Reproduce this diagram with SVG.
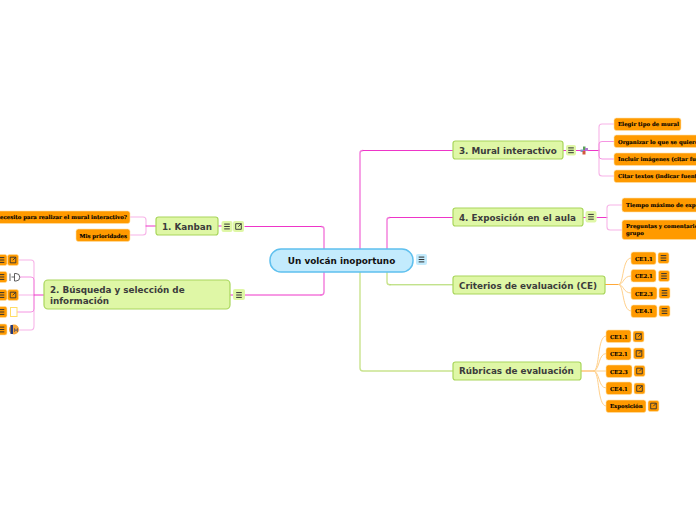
<svg xmlns="http://www.w3.org/2000/svg" xmlns:xlink="http://www.w3.org/1999/xlink" width="696" height="520" viewBox="0 0 696 520">
<style>
text{font-family:"DejaVu Sans",sans-serif;font-weight:bold}
.b{fill:#dff7a6;stroke:#a9d65c;stroke-width:1.2}
.bt{font-size:8.8px;fill:#3c3c3c}
.r{fill:#c3ebfd;stroke:#5fc0ee;stroke-width:1.5}
.l{fill:#ff9a00;stroke:#ffe0a8;stroke-width:.6}
.lt{font-family:"DejaVu Serif",serif;font-size:5.4px;fill:#000;stroke:#000;stroke-width:.12}
.c{fill:none;stroke-linecap:round}
.p1{stroke:#f27adb;stroke-width:1.4}
.p2{stroke:#ee35c8;stroke-width:1}
.g1{stroke:#c9e38e;stroke-width:1.4}
.g2{stroke:#a9d65c;stroke-width:1}
.q{stroke:#f7b4e8;stroke-width:1.1}
.q2{stroke:#f27adb;stroke-width:.8}
.o1{stroke:#ffa838;stroke-width:1.2}
.o2{stroke:#ffd08a;stroke-width:1}
</style>
<defs>
<g id="nb"><path d="M-2.8 -2.4H2.8M-2.8 0H2.8M-2.8 2.4H2.8" stroke="#333" stroke-width="1" fill="none"/></g>
<g id="lk"><path d="M1 -2.8H-2.8V2.8H2.8V-.8M-.3 .3L2.8 -2.8M.8 -2.8H2.8V-.8" stroke="#333" stroke-width=".9" fill="none"/></g>
</defs>
<g id="connectors">
<path class="c p1" d="M360 249V153Q360 150.500 363 150.500"/><path class="c p2" d="M363 150.500H453"/>
<path class="c p1" d="M387 249V220Q387 217.500 390 217.500"/><path class="c p2" d="M390 217.500H453"/>
<path class="c g1" d="M387 272V282Q387 284.800 390 284.800"/><path class="c g2" d="M390 284.800H453"/>
<path class="c g1" d="M360 272V368Q360 371 363 371H453"/>
<path class="c p1" d="M324 249V229Q324 226.500 321 226.500"/><path class="c p2" d="M321 226.500H245"/>
<path class="c p1" d="M324 272V292Q324 295 321 295"/><path class="c p2" d="M321 295H245"/>
<path class="c p2" d="M563 150.500H566M576 150.500H599"/>
<path class="c q" d="M614 124H602Q599 124 599 127V173Q599 176 602 176H614"/>
<path class="c q2" d="M614 141.500H602Q599 141.500 599 144V150M614 159H602Q599 159 599 156V150"/>
<path class="c p2" d="M583 217.500H586M597 217.500H607"/>
<path class="c q" d="M622 205H610Q607 205 607 208V227Q607 230 610 230H622"/>
<path class="c o1" d="M605 284.500H619"/>
<path class="c o2" d="M619 284.500C624 284 622 258 631 258M619 284.500C624 284 623 276 631 276M619 284.500C624 285 623 293 631 293M619 284.500C624 285 622 311 631 311"/>
<path class="c o1" d="M581 371H594"/>
<path class="c o2" d="M594 371C600 370 597 336 606 336M594 371C600 370 598 353.500 606 353.500M594 371H606M594 371C600 372 598 388 606 388M594 371C600 372 597 406 606 406"/>
<path class="c p2" d="M218 226H222"/>
<path class="c q" d="M130 217H143Q146 217 146 220V232Q146 235 143 235H130"/><path class="c p2" d="M146 226H156"/>
<path class="c p2" d="M230 295H233"/>
<path class="c q" d="M18 260H31Q34 260 34 263V326Q34 330 31 330H18"/>
<path class="c q2" d="M20 277H31Q34 277 34 280V309Q34 312 31 312H16"/>
<path class="c q" d="M18 295H34"/><path class="c p2" d="M34 295H44"/>
</g>
<g id="root"><rect class="r" x="270" y="249" width="143" height="23" rx="11"/><text x="341.500" y="264" text-anchor="middle" font-size="8.900" fill="#111">Un volcán inoportuno</text>
<rect x="416" y="254" width="11" height="11" rx="2" fill="#c3ebfd"/><use href="#nb" x="421.500" y="259.500"/></g>
<g id="n1"><rect class="b" x="156" y="217" width="62" height="18" rx="2.500"/><text class="bt" x="162" y="230">1. Kanban</text>
<rect x="221.500" y="221" width="11" height="11" rx="2" fill="#dff7a6"/><use href="#nb" x="227" y="226.500"/><rect x="233" y="221" width="11" height="11" rx="2" fill="#dff7a6"/><use href="#lk" x="238.500" y="226.500"/></g>
<g id="n1a"><rect class="l" x="-20" y="211" width="150" height="12.500" rx="2.500"/><text class="lt" x="127" y="219" text-anchor="end">necesito para realizar el mural interactivo?</text></g>
<g id="n1b"><rect class="l" x="76" y="229" width="54" height="12.500" rx="2.500"/><text class="lt" x="127" y="237.500" text-anchor="end">Mis prioridades</text></g>
<g id="n2"><rect class="b" x="44" y="280" width="186" height="29" rx="4"/><text class="bt" x="50" y="293">2. Búsqueda y selección de</text><text class="bt" x="50" y="304">información</text>
<rect x="233" y="289" width="12" height="11" rx="2" fill="#dff7a6"/><use href="#nb" x="239" y="295"/></g>
<g id="n2a"><rect class="l" x="-6" y="254.500" width="13" height="11" rx="2"/><use href="#nb" x="1.500" y="260"/><rect class="l" x="7.500" y="254.500" width="11" height="11" rx="2"/><use href="#lk" x="13" y="260"/></g>
<g id="n2b"><rect class="l" x="-6" y="271.500" width="13" height="11" rx="2"/><use href="#nb" x="1.500" y="277"/><path d="M10 273.500V281M11.500 277H14.500M14.500 273.500H16A3.700 3.700 0 0 1 16 281H14.500Z" fill="none" stroke="#3a3a3a" stroke-width=".8"/></g>
<g id="n2c"><rect class="l" x="-6" y="289.500" width="13" height="11" rx="2"/><use href="#nb" x="1.500" y="295"/><rect class="l" x="7.500" y="289.500" width="11" height="11" rx="2"/><use href="#lk" x="13" y="295"/></g>
<g id="n2d"><rect class="l" x="-6" y="306.500" width="13" height="11" rx="2"/><use href="#nb" x="1.500" y="312"/><rect x="10.500" y="307.500" width="6.500" height="9" fill="#fff" stroke="#ffdd66" stroke-width="1"/></g>
<g id="n2e"><rect class="l" x="-6" y="324" width="13" height="11" rx="2"/><use href="#nb" x="1.500" y="329.500"/><circle cx="14" cy="329.500" r="5" fill="#f5a53a"/><rect x="10.500" y="325" width="2.500" height="9" fill="#24397a"/><path d="M14.500 332V328.500L16 331L17.500 328.500V332" fill="none" stroke="#33406e" stroke-width=".6"/></g>
<g id="n3"><rect class="b" x="453" y="141" width="110" height="18" rx="2.500"/><text class="bt" x="459" y="154">3. Mural interactivo</text>
<rect x="566" y="145" width="10" height="10.500" rx="2" fill="#dff7a6"/><use href="#nb" x="571" y="150.300"/>
<path d="M583 146.500L585.500 146.500V150H583Z" fill="#5aa05a"/><path d="M585 148H588V151H585Z" fill="#b07ad0"/><path d="M580.500 149.500H583.500V152H580.500Z" fill="#7aa0c8"/><path d="M582.500 151H585.500V154.500H582.500Z" fill="#d05a3a"/></g>
<g id="n3a"><rect class="l" x="614" y="118" width="67" height="12.500" rx="2.500"/><text class="lt" x="618" y="126">Elegir tipo de mural</text></g>
<g id="n3b"><rect class="l" x="614" y="135" width="90" height="12.500" rx="2.500"/><text class="lt" x="618" y="143.500">Organizar lo que se quiere</text></g>
<g id="n3c"><rect class="l" x="614" y="153" width="90" height="12.500" rx="2.500"/><text class="lt" x="618" y="161">Incluir imágenes (citar fuente)</text></g>
<g id="n3d"><rect class="l" x="614" y="170" width="90" height="12.500" rx="2.500"/><text class="lt" x="618" y="178">Citar textos (indicar fuente)</text></g>
<g id="n4"><rect class="b" x="453" y="208" width="130" height="18" rx="2.500"/><text class="bt" x="459" y="221">4. Exposición en el aula</text>
<rect x="585.500" y="211" width="11" height="11.500" rx="2" fill="#dff7a6"/><use href="#nb" x="591" y="216.800"/></g>
<g id="n4a"><rect class="l" x="622" y="198" width="90" height="14" rx="2.500"/><text class="lt" x="626" y="207">Tiempo máximo de expo</text></g>
<g id="n4b"><rect class="l" x="622" y="220" width="90" height="19.500" rx="2.500"/><text class="lt" x="626" y="228">Preguntas y comentarios del</text><text class="lt" x="626" y="235">grupo</text></g>
<g id="n5"><rect class="b" x="453" y="276" width="152" height="18" rx="2.500"/><text class="bt" x="459" y="288.500">Criterios de evaluación (CE)</text></g>
<g id="n5a"><rect class="l" x="631" y="252" width="25" height="12.500" rx="2.500"/><text class="lt" x="635" y="260.500">CE1.1</text><rect class="l" x="658" y="252.500" width="11" height="11" rx="2"/><use href="#nb" x="663.500" y="258"/></g>
<g id="n5b"><rect class="l" x="631" y="269.500" width="25" height="12.500" rx="2.500"/><text class="lt" x="635" y="278">CE2.1</text><rect class="l" x="658.500" y="270.500" width="11" height="11" rx="2"/><use href="#nb" x="664" y="276"/></g>
<g id="n5c"><rect class="l" x="631" y="287" width="26" height="12.500" rx="2.500"/><text class="lt" x="635" y="295.500">CE2.3</text><rect class="l" x="659" y="287.500" width="11" height="11" rx="2"/><use href="#nb" x="664.500" y="293"/></g>
<g id="n5d"><rect class="l" x="631" y="305" width="26" height="12.500" rx="2.500"/><text class="lt" x="635" y="313">CE4.1</text><rect class="l" x="659" y="305.500" width="11" height="11" rx="2"/><use href="#nb" x="664.500" y="311"/></g>
<g id="n6"><rect class="b" x="453" y="362" width="128" height="18" rx="2.500"/><text class="bt" x="459" y="374">Rúbricas de evaluación</text></g>
<g id="n6a"><rect class="l" x="606" y="330" width="25" height="12.500" rx="2.500"/><text class="lt" x="610" y="338.500">CE1.1</text><rect class="l" x="633" y="331" width="11" height="11" rx="2"/><use href="#lk" x="638.500" y="336.500"/></g>
<g id="n6b"><rect class="l" x="606" y="347.500" width="25" height="12.500" rx="2.500"/><text class="lt" x="610" y="355.500">CE2.1</text><rect class="l" x="633.500" y="348" width="11" height="11" rx="2"/><use href="#lk" x="639" y="353.500"/></g>
<g id="n6c"><rect class="l" x="606" y="365" width="26" height="12.500" rx="2.500"/><text class="lt" x="610" y="373.500">CE2.3</text><rect class="l" x="634" y="365.500" width="11" height="11" rx="2"/><use href="#lk" x="639.500" y="371"/></g>
<g id="n6d"><rect class="l" x="606" y="382" width="26" height="12.500" rx="2.500"/><text class="lt" x="610" y="390.500">CE4.1</text><rect class="l" x="634" y="383" width="11" height="11" rx="2"/><use href="#lk" x="639.500" y="388.500"/></g>
<g id="n6e"><rect class="l" x="606" y="400" width="40" height="12.500" rx="2.500"/><text class="lt" x="610" y="408">Exposición</text><rect class="l" x="648" y="400.500" width="11" height="11" rx="2"/><use href="#lk" x="653.500" y="406"/></g>
</svg>
